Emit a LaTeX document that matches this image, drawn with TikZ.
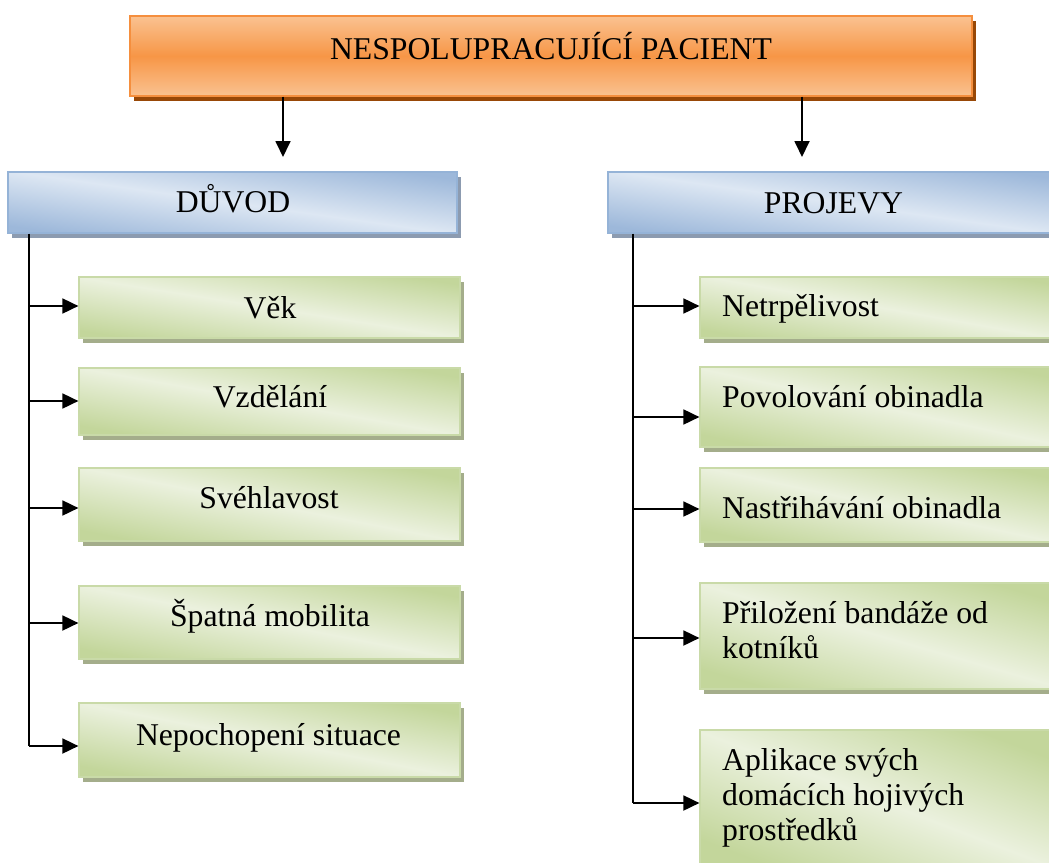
\documentclass[tikz,border=0pt]{standalone}
\usepackage{fontspec}
\setmainfont{Liberation Serif}
\usetikzlibrary{arrows.meta,shadows}

\definecolor{orLight}{HTML}{FAC291}
\definecolor{orMid}{HTML}{F79646}
\definecolor{orBorder}{HTML}{F58F3E}
\definecolor{orShadow}{HTML}{984807}
\definecolor{blLight}{HTML}{DDE7F3}
\definecolor{blDark}{HTML}{9DB8DA}
\definecolor{blBorder}{HTML}{95B3D7}
\definecolor{blShadow}{HTML}{8C9BB0}
\definecolor{grLight}{HTML}{EBF1DE}
\definecolor{grDark}{HTML}{C3D69B}
\definecolor{grBorder}{HTML}{C9DAA8}
\definecolor{grShadow}{HTML}{A4AD8B}

\begin{document}
\begin{tikzpicture}[x=1pt,y=-1pt,
  box/.style={draw, line width=1.2pt, inner sep=0pt},
  topbox/.style={box, draw=orBorder, top color=orLight, bottom color=orLight,
    middle color=orMid, shading angle=0,
    general shadow={fill=orShadow, shadow xshift=4pt, shadow yshift=-5pt}},
  headbox/.style={box, draw=blBorder, top color=blDark, bottom color=blDark,
    middle color=blLight, shading angle=-8,
    general shadow={fill=blShadow, shadow xshift=4pt, shadow yshift=-5pt}},
  itembox/.style={box, draw=grBorder, top color=grDark, bottom color=grDark,
    middle color=grLight, shading angle=#1,
    general shadow={fill=grShadow, shadow xshift=4pt, shadow yshift=-5pt}},
  itembox/.default=-10,
  txt/.style={font=\fontsize{31.7}{35}\selectfont, inner sep=0pt, anchor=base},
  ltxt/.style={txt, anchor=base west, align=left},
  arr/.style={line width=1.8pt, -{Triangle[length=16pt,width=15pt]}},
  trunk/.style={line width=1.8pt}]

\useasboundingbox (0,0) rectangle (1049,862);

% top box
\node[topbox, minimum width=842pt, minimum height=80pt] (top) at (551,56) {};
\node[txt] (t-top) at (551,59.3) {NESPOLUPRACUJÍCÍ PACIENT};

% two headings
\node[headbox, minimum width=449pt, minimum height=61pt] (duvod) at (232.5,202.5) {};
\node[txt] (t-duvod) at (233,212.7) {DŮVOD};
\node[headbox, minimum width=454pt, minimum height=61pt] (projevy) at (835,202.5) {};
\node[txt] (t-projevy) at (833.5,213.3) {PROJEVY};

% left column: reasons
\node[itembox=-9, minimum width=381pt, minimum height=61pt] (vek) at (269.5,307.5) {};
\node[txt] (t-vek) at (270,318.3) {Věk};
\node[itembox=-10, minimum width=381pt, minimum height=67pt] (vzdel) at (269.5,401.5) {};
\node[txt] (t-vzdel) at (270,407.3) {Vzdělání};
\node[itembox=-11, minimum width=381pt, minimum height=73pt] (sveh) at (269.5,504.5) {};
\node[txt] (t-sveh) at (269,508.3) {Svéhlavost};
\node[itembox=-11, minimum width=381pt, minimum height=73pt] (mobil) at (269.5,622.5) {};
\node[txt] (t-mobil) at (270,626.7) {Špatná mobilita};
\node[itembox=-11, minimum width=381pt, minimum height=74pt] (nepoch) at (269.5,740) {};
\node[txt] (t-nepoch) at (268.5,745) {Nepochopení situace};

% right column: manifestations
\node[itembox=-10, minimum width=362pt, minimum height=61pt] (netrp) at (881,307.5) {};
\node[ltxt] (t-netrp) at (722,316.7) {Netrpělivost};
\node[itembox=-12, minimum width=362pt, minimum height=80pt] (povol) at (881,407) {};
\node[ltxt] (t-povol) at (722,407.3) {Povolování obinadla};
\node[itembox=-12, minimum width=362pt, minimum height=74pt] (nastr) at (881,505) {};
\node[ltxt] (t-nastr) at (722,518.3) {Nastřihávání obinadla};
\node[itembox=-16, minimum width=362pt, minimum height=106pt] (priloz) at (881,636) {};
\node[ltxt] (t-priloz) at (722,658.3) {Přiložení bandáže od\\kotníků};
\node[itembox=-21, minimum width=362pt, minimum height=142pt] (aplik) at (881,801) {};
\node[ltxt] (t-aplik) at (722,840) {Aplikace svých\\domácích hojivých\\prostředků};

% arrows from the top box
\coordinate (endL) at (283,157);
\coordinate (endR) at (802,157);
\draw[arr] (top.south -| endL) -- (endL);
\draw[arr] (top.south -| endR) -- (endR);

% left trunk with branches
\coordinate (tl) at (29,0);
\draw[trunk] (duvod.south -| tl) -- ([yshift=-6pt]tl |- nepoch.west);
\draw[arr] ([yshift=1.5pt]tl |- vek.west) -- ([yshift=1.5pt]vek.west);
\draw[arr] ([yshift=0.5pt]tl |- vzdel.west) -- ([yshift=0.5pt]vzdel.west);
\draw[arr] ([yshift=-3.5pt]tl |- sveh.west) -- ([yshift=-3.5pt]sveh.west);
\draw[arr] ([yshift=-0.5pt]tl |- mobil.west) -- ([yshift=-0.5pt]mobil.west);
\draw[arr] ([yshift=-6pt]tl |- nepoch.west) -- ([yshift=-6pt]nepoch.west);

% right trunk with branches
\coordinate (tr) at (633,0);
\draw[trunk] (projevy.south -| tr) -- ([yshift=-2pt]tr |- aplik.west);
\draw[arr] ([yshift=1.5pt]tr |- netrp.west) -- ([yshift=1.5pt]netrp.west);
\draw[arr] ([yshift=-10pt]tr |- povol.west) -- ([yshift=-10pt]povol.west);
\draw[arr] ([yshift=-4pt]tr |- nastr.west) -- ([yshift=-4pt]nastr.west);
\draw[arr] ([yshift=-2pt]tr |- priloz.west) -- ([yshift=-2pt]priloz.west);
\draw[arr] ([yshift=-2pt]tr |- aplik.west) -- ([yshift=-2pt]aplik.west);
\end{tikzpicture}
\end{document}
